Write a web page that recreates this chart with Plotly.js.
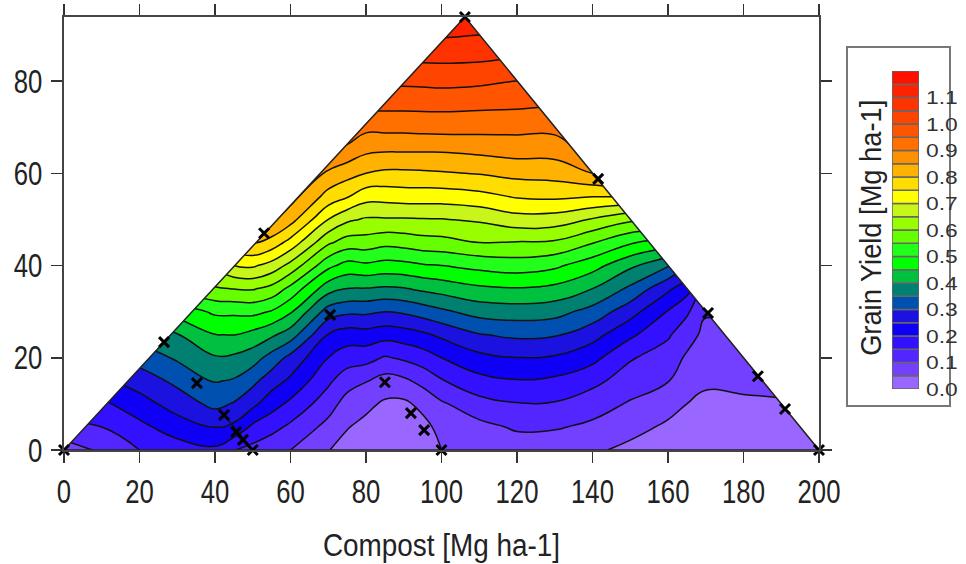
<!DOCTYPE html>
<html>
<head>
<meta charset="utf-8">
<script src="https://cdn.plot.ly/plotly-3.0.1.min.js"></script>
<style>html,body{margin:0;padding:0;background:#fff}#chart{width:966px;height:564px}</style>
</head>
<body>
<div id="chart"></div>
<script>
var xGrid = [0,10,20,30,40,45,50,55,60,70,75,80,85,90,95,100,110,120,130,140,150,160,165,170,180,190,200];
var yGrid = [0,5,10,15,20,25,30,35,40,45,50,55,60,65,70,75,80,85,90,95];

var z_x0   = [.07,.14,.19,.24,.29,.34,.39,.44,.49,.54,.59,.64,.69,.74,.79,.84,.89,.94,.99,1.04];
var z_x10  = [.11,.15,.19,.24,.29,.34,.39,.45,.51,.57,.63,.69,.75,.81,.87,.93,.99,1.05,1.1,1.15];
var z_x20  = [.15,.187,.229,.273,.32,.37,.42,.48,.54,.6,.66,.72,.78,.84,.9,.96,1.02,1.08,1.13,1.18];
var z_x30  = [.175,.226,.272,.312,.357,.397,.47,.55,.62,.68,.74,.8,.86,.92,.98,1.04,1.1,1.15,1.2,1.2];
var z_x40  = [.19,.251,.314,.354,.395,.449,.509,.595,.66,.73,.8,.86,.92,.98,1.04,1.1,1.15,1.2,1.2,1.2];
var z_x45  = [.152,.239,.296,.345,.391,.451,.51,.602,.70,.78,.85,.92,.98,1.04,1.1,1.15,1.2,1.2,1.2,1.2];
var z_x50  = [.134,.19,.263,.313,.373,.434,.514,.605,.707,.805,.87,.93,.99,1.05,1.1,1.15,1.2,1.2,1.2,1.2];
var z_x55  = [.115,.167,.22,.273,.33,.409,.496,.585,.681,.78,.86,.91,.97,1.03,1.09,1.15,1.2,1.2,1.2,1.2];
var z_x60  = [.10,.14,.189,.24,.285,.375,.456,.536,.634,.732,.82,.87,.93,.99,1.05,1.1,1.15,1.2,1.2,1.2];
var z_x70  = [.052,.085,.122,.16,.2,.247,.327,.421,.514,.609,.70,.782,.84,.90,.96,1.02,1.08,1.13,1.18,1.2];
var z_x75  = [.03,.053,.08,.121,.175,.225,.31,.40,.482,.578,.66,.755,.819,.885,.945,1.0,1.05,1.1,1.15,1.2];
var z_x80  = [.02,.035,.063,.103,.169,.23,.31,.398,.49,.578,.644,.72,.80,.86,.913,.97,1.03,1.08,1.13,1.18];
var z_x85  = [.018,.025,.042,.081,.145,.219,.30,.393,.481,.565,.645,.72,.79,.855,.915,.965,1.01,1.06,1.11,1.16];
var z_x90  = [.015,.02,.04,.09,.158,.227,.307,.397,.485,.57,.645,.725,.79,.855,.915,.965,1.01,1.06,1.1,1.15];
var z_x95  = [.03,.035,.063,.115,.175,.24,.323,.41,.495,.58,.647,.725,.792,.855,.918,.965,1.012,1.06,1.1,1.155];
var z_x100 = [.05,.065,.093,.146,.2,.26,.34,.42,.5,.583,.648,.725,.795,.855,.92,.965,1.015,1.06,1.105,1.16];
var z_x110 = [.06,.085,.132,.184,.236,.297,.369,.441,.515,.60,.657,.735,.803,.862,.918,.962,1.01,1.058,1.1,1.15];
var z_x120 = [.072,.107,.147,.197,.249,.31,.375,.447,.525,.597,.68,.755,.815,.87,.915,.96,1.0,1.05,1.1,1.15];
var z_x130 = [.065,.105,.146,.19,.244,.305,.368,.437,.51,.593,.677,.76,.82,.87,.915,.96,1.0,1.05,1.1,1.15];
var z_x140 = [.06,.09,.122,.164,.215,.269,.332,.40,.47,.553,.646,.752,.85,.92,.97,1.0,1.05,1.1,1.15,1.2];
var z_x150 = [.035,.07,.095,.125,.155,.21,.27,.34,.41,.506,.61,.75,.87,.95,1.0,1.05,1.1,1.15,1.2,1.2];
var z_x160 = [.02,.04,.072,.102,.125,.157,.197,.26,.355,.47,.6,.73,.85,.95,1.0,1.05,1.1,1.15,1.2,1.2];
var z_x165 = [.015,.03,.05,.07,.093,.12,.158,.22,.3,.42,.55,.68,.8,.9,1.0,1.05,1.1,1.15,1.2,1.2];
var z_x170 = [.01,.02,.04,.057,.072,.087,.105,.15,.22,.3,.4,.5,.6,.7,.8,.9,1.0,1.1,1.2,1.2];
var z_x180 = [.005,.02,.043,.06,.08,.1,.12,.15,.2,.25,.3,.35,.4,.45,.5,.55,.6,.65,.7,.75];
var z_x190 = [.005,.025,.045,.065,.085,.105,.125,.15,.2,.25,.3,.35,.4,.45,.5,.55,.6,.65,.7,.75];
var z_x200 = [.005,.03,.05,.07,.09,.11,.13,.15,.2,.25,.3,.35,.4,.45,.5,.55,.6,.65,.7,.75];
var columns = [z_x0,z_x10,z_x20,z_x30,z_x40,z_x45,z_x50,z_x55,z_x60,z_x70,z_x75,z_x80,z_x85,z_x90,z_x95,z_x100,z_x110,z_x120,z_x130,z_x140,z_x150,z_x160,z_x165,z_x170,z_x180,z_x190,z_x200];

var triangleX = [0,106.2,200,0];
var triangleY = [0,93.9,0,0];
var sampleX = [0,50,100,200,106.2,141.5,170.6,183.8,191,53,26.5,35.2,42.4,45.6,47.4,70.5,85,91.9,95.4];
var sampleY = [0,0,0,0,93.9,58.8,29.7,16,8.9,47,23.4,14.5,7.6,3.9,2.2,29.3,14.7,8,4.3];
var hullSegX = [42.4,50];
var hullSegY = [7.6,0];

var bandColors = ['#9966ff','#7440ff','#5326ff','#3311ff','#0f00f5','#1c12e0','#0050b0','#008070','#00c040','#00ff00','#22ff1a','#66ff00','#99ff00','#c8f51a','#ffff00','#ffdd00','#ffb300','#ff9000','#ff7000','#ff5500','#ff4400','#ff3300','#ff2200','#ff1100'];
var bandStarts = [0,.05,.1,.15,.2,.25,.3,.35,.4,.45,.5,.55,.6,.65,.7,.75,.8,.85,.9,.95,1,1.05,1.1,1.15];
var legendTickText = ['0.0','0.1','0.2','0.3','0.4','0.5','0.6','0.7','0.8','0.9','1.0','1.1'];

var zRows = yGrid.map(function(_, r){ return columns.map(function(c){ return c[r]; }); });
var scale = [[0, bandColors[0]]].concat(bandColors.map(function(c,i){ return [(i+1)/bandColors.length, c]; }));
var bandWidth = bandStarts.map(function(){ return 0.05; });
var legendTickVals = legendTickText.map(function(t){ return parseFloat(t); });

var xAreaW = 902, yAreaH = 450;
var traces = [
 {type:'contour', x:xGrid, y:yGrid, z:zRows, colorscale:scale, showscale:false, hoverinfo:'skip',
  contours:{start:0,end:1.15,size:.05,coloring:'fill'}, line:{color:'#111',width:1.5,smoothing:1.3}},
 {type:'scatter', mode:'none', x:[0,106.2,0,0], y:[0,93.9,93.9,0], fill:'toself', fillcolor:'#fff', hoverinfo:'skip', showlegend:false},
 {type:'scatter', mode:'none', x:[200,106.2,200,200], y:[0,93.9,93.9,0], fill:'toself', fillcolor:'#fff', hoverinfo:'skip', showlegend:false},
 {type:'scatter', mode:'lines', x:triangleX, y:triangleY, line:{color:'#222',width:1.5}, hoverinfo:'skip', showlegend:false},
 {type:'scatter', mode:'lines', x:hullSegX, y:hullSegY, line:{color:'#111',width:1.4}, hoverinfo:'skip', showlegend:false},
 {type:'scatter', mode:'markers', x:sampleX, y:sampleY, cliponaxis:false, showlegend:false,
  marker:{symbol:'x-thin',size:10,line:{color:'#000',width:3}}},
 {type:'bar', xaxis:'x2', yaxis:'y2', x:bandStarts.map(function(){return 'c';}), y:bandWidth, base:bandStarts, width:1,
  marker:{color:bandColors,line:{color:'#666',width:1.5}}, showlegend:false, hoverinfo:'skip'}
];
var layout = {
 width:966, height:564, margin:{l:64,r:0,t:0,b:114}, paper_bgcolor:'#fff', plot_bgcolor:'#fff',
 showlegend:false, barmode:'overlay', font:{family:'"Liberation Sans",sans-serif',color:'#222'},
 xaxis:{domain:[0,755/xAreaW],range:[0,200],tickvals:[0,20,40,60,80,100,120,140,160,180,200],ticks:'outside',ticklen:11,tickwidth:1.6,tickcolor:'#333',
  showline:true,linecolor:'#444',linewidth:2,mirror:'ticks',showgrid:false,zeroline:false,tickfont:{size:33,color:'#222'},
  title:{text:'Compost [Mg ha-1]',font:{size:31,color:'#222'},standoff:26}},
 yaxis:{domain:[0,433/yAreaH],range:[0,93.9],tickvals:[0,20,40,60,80],ticks:'outside',ticklen:11,tickwidth:1.6,tickcolor:'#333',ticklabelstandoff:2,
  showline:true,linecolor:'#444',linewidth:2,mirror:'ticks',showgrid:false,zeroline:false,tickfont:{size:33,color:'#222'}},
 xaxis2:{domain:[(892-64)/xAreaW,(919-64)/xAreaW],anchor:'y2',type:'category',visible:false,fixedrange:true},
 yaxis2:{domain:[(450-389)/yAreaH,(450-71)/yAreaH],anchor:'x2',side:'right',range:[0,1.2],tickvals:legendTickVals,ticktext:legendTickText,ticks:'',showline:false,showgrid:false,zeroline:false,ticklabelstandoff:6,
  tickfont:{family:'"Liberation Sans",sans-serif',size:19,color:'#333'}},
 shapes:[{type:'rect',xref:'paper',yref:'paper',x0:(847-64)/xAreaW,x1:(950-64)/xAreaW,y0:44/yAreaH,y1:403/yAreaH,line:{color:'#777',width:2},layer:'below'}],
 annotations:[{xref:'paper',yref:'paper',x:(871-64)/xAreaW,y:(450-228)/yAreaH,text:'Grain Yield [Mg ha-1]',textangle:-90,showarrow:false,font:{size:29,color:'#222'},xanchor:'center',yanchor:'middle'}]
};
function squeeze(selector, factor){
  document.querySelectorAll(selector).forEach(function(t){
    var w = t.getComputedTextLength();
    t.setAttribute('textLength', (w*factor).toFixed(1));
    t.setAttribute('lengthAdjust','spacingAndGlyphs');
  });
}
Plotly.newPlot('chart',traces,layout,{displayModeBar:false,staticPlot:true}).then(function(){
  squeeze('.xtick text, .ytick text', 0.78);
  squeeze('.y2tick text', 1.2);
  squeeze('.g-xtitle text', 0.9);
  squeeze('.annotation-text', 0.94);
});
</script>
</body>
</html>
